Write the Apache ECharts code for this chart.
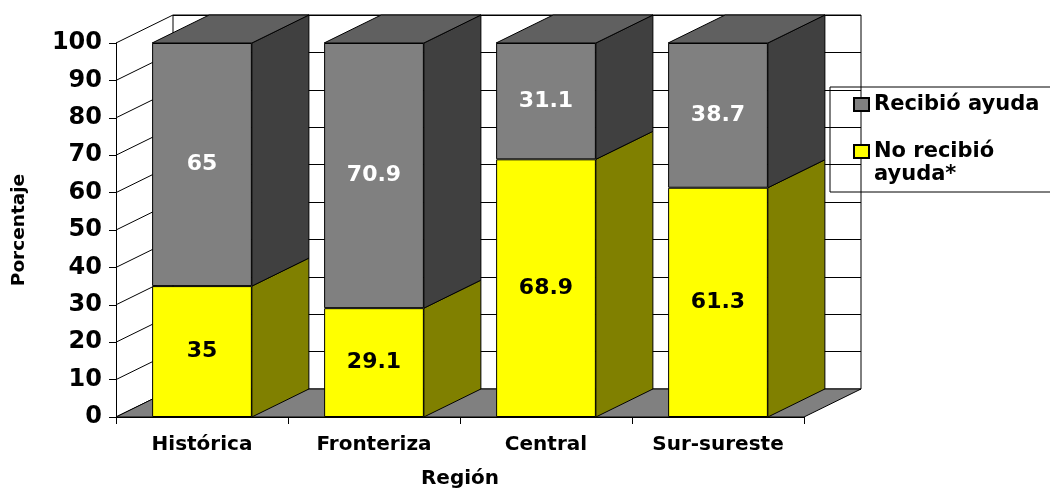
<!DOCTYPE html>
<html>
<head>
<meta charset="utf-8">
<script src="https://cdn.jsdelivr.net/npm/echarts@6/dist/echarts.min.js"></script>
<style>
  html, body { margin: 0; padding: 0; background: #fff; }
  #chart { width: 1050px; height: 491px; }
</style>
</head>
<body>
<div id="chart"></div>
<script>
// Regions and share of households (%) by aid status
const categories = ['Histórica', 'Fronteriza', 'Central', 'Sur-sureste'];
const noRecibio = [35, 29.1, 68.9, 61.3];
const recibio = [65, 70.9, 31.1, 38.7];
const yTicks = [0, 10, 20, 30, 40, 50, 60, 70, 80, 90, 100];

const NAME_NO = 'No recibió ayuda*';
const NAME_SI = 'Recibió ayuda';

// depth of the pseudo-3D box, in pixels
const DX = 57, DY = 28;
const BAR_RATIO = 0.58;
const FONT = 'DejaVu Sans';

// stacked segments: [category, base, top, segment]
const segments = [];
categories.forEach((c, i) => {
  segments.push([i, 0, noRecibio[i], 0]);
  segments.push([i, noRecibio[i], noRecibio[i] + recibio[i], 1]);
});

const sideColors = ['#808000', '#404040'];
const topColor = '#606060';

const chart = echarts.init(document.getElementById('chart'), null, { renderer: 'canvas' });

chart.setOption({
  animation: false,
  textStyle: { fontFamily: FONT, fontWeight: 'bold', color: '#000' },
  grid: [
    { left: 116, right: 246, top: 43, bottom: 74, show: false,
      containLabel: false, outerBoundsMode: 'none' },
    { left: 116 + DX, right: 246 - DX, top: 43 - DY, bottom: 74 + DY,
      containLabel: false, outerBoundsMode: 'none',
      show: true, backgroundColor: '#fff', borderColor: '#000', borderWidth: 1, z: 0 }
  ],
  xAxis: [
    {
      type: 'category', gridIndex: 0, data: categories,
      axisLine: { lineStyle: { color: '#000', width: 1 } },
      axisTick: { show: true, length: 7, lineStyle: { color: '#000' } },
      axisLabel: { fontSize: 20, fontWeight: 'bold', fontFamily: FONT, color: '#000', margin: 18 },
      name: 'Región', nameLocation: 'middle', nameGap: 52,
      nameTextStyle: { fontSize: 20, fontWeight: 'bold', fontFamily: FONT, color: '#000' }
    },
    { type: 'category', gridIndex: 1, data: categories, show: false }
  ],
  yAxis: [
    {
      type: 'value', gridIndex: 0, min: 0, max: 100, interval: 10,
      axisLine: { show: true, lineStyle: { color: '#000', width: 1 } },
      axisTick: { show: true, length: 7, lineStyle: { color: '#000' } },
      splitLine: { show: false },
      axisLabel: { fontSize: 24, fontWeight: 'bold', fontFamily: FONT, color: '#000', margin: 14 },
      name: 'Porcentaje', nameLocation: 'middle', nameGap: 87, nameRotate: 90,
      nameTextStyle: { fontSize: 18.5, fontWeight: 'bold', fontFamily: FONT, color: '#000' }
    },
    {
      type: 'value', gridIndex: 1, min: 0, max: 100, interval: 10,
      axisLine: { show: false }, axisTick: { show: false }, axisLabel: { show: false },
      splitLine: { show: true, lineStyle: { color: '#000', width: 1 } }
    }
  ],
  legend: {
    orient: 'vertical',
    left: 830, top: 87,
    padding: [6, 30, 6, 23],
    itemGap: 1,
    icon: 'rect',
    itemWidth: 15, itemHeight: 13,
    borderColor: '#000', borderWidth: 1,
    textStyle: { fontSize: 21, fontWeight: 'bold', fontFamily: FONT, color: '#000', lineHeight: 23 },
    data: [NAME_SI, NAME_NO],
    // the second entry wraps; a leading blank line keeps its first line level with the swatch
    formatter: n => n === NAME_NO ? '\nNo recibió\nayuda*' : n
  },
  series: [
    {
      // left wall: depth lines from the value axis to the back wall
      type: 'custom', xAxisIndex: 0, yAxisIndex: 0, silent: true,
      encode: { x: 0, y: 1 },
      data: yTicks.map(v => [0, v]),
      renderItem: (params, api) => {
        const cs = params.coordSys;
        const y = api.coord([0, api.value(1)])[1];
        return {
          type: 'line',
          shape: { x1: cs.x, y1: y, x2: cs.x + DX, y2: y - DY },
          style: { stroke: '#000', lineWidth: 1 }
        };
      }
    },
    {
      // floor
      type: 'custom', xAxisIndex: 0, yAxisIndex: 0, silent: true,
      encode: { x: 0, y: 1 },
      data: [[0, 0]],
      renderItem: (params, api) => {
        const cs = params.coordSys;
        const y = api.coord([0, 0])[1];
        const x0 = cs.x, x1 = cs.x + cs.width;
        return {
          type: 'polygon',
          shape: { points: [[x0, y], [x1, y], [x1 + DX, y - DY], [x0 + DX, y - DY]] },
          style: { fill: '#808080', stroke: '#000', lineWidth: 1 }
        };
      }
    },
    {
      // side and top faces of the stacked columns
      type: 'custom', xAxisIndex: 0, yAxisIndex: 0, silent: true,
      encode: { x: 0, y: 2 },
      data: segments,
      renderItem: (params, api) => {
        const i = api.value(0), b = api.value(1), t = api.value(2), s = api.value(3);
        const pb = api.coord([i, b]);
        const pt = api.coord([i, t]);
        const hw = api.size([1, 0])[0] * BAR_RATIO / 2;
        const xl = pb[0] - hw, xr = pb[0] + hw;
        const children = [{
          type: 'polygon',
          shape: { points: [[xr, pb[1]], [xr, pt[1]], [xr + DX, pt[1] - DY], [xr + DX, pb[1] - DY]] },
          style: { fill: sideColors[s], stroke: '#000', lineWidth: 1 }
        }];
        if (s === 1) {
          children.push({
            type: 'polygon',
            shape: { points: [[xl, pt[1]], [xr, pt[1]], [xr + DX, pt[1] - DY], [xl + DX, pt[1] - DY]] },
            style: { fill: topColor, stroke: '#000', lineWidth: 1 }
          });
        }
        return { type: 'group', children };
      }
    },
    {
      name: NAME_NO, type: 'bar', stack: 'total', xAxisIndex: 0, yAxisIndex: 0,
      barWidth: (BAR_RATIO * 100) + '%',
      data: noRecibio,
      itemStyle: { color: '#FFFF00', borderColor: '#000', borderWidth: 1 },
      label: { show: true, position: 'inside', fontSize: 22, fontWeight: 'bold', fontFamily: FONT, color: '#000' }
    },
    {
      name: NAME_SI, type: 'bar', stack: 'total', xAxisIndex: 0, yAxisIndex: 0,
      barWidth: (BAR_RATIO * 100) + '%',
      data: recibio,
      itemStyle: { color: '#808080', borderColor: '#000', borderWidth: 1 },
      label: { show: true, position: 'inside', fontSize: 22, fontWeight: 'bold', fontFamily: FONT, color: '#fff' }
    }
  ]
});
</script>
</body>
</html>
